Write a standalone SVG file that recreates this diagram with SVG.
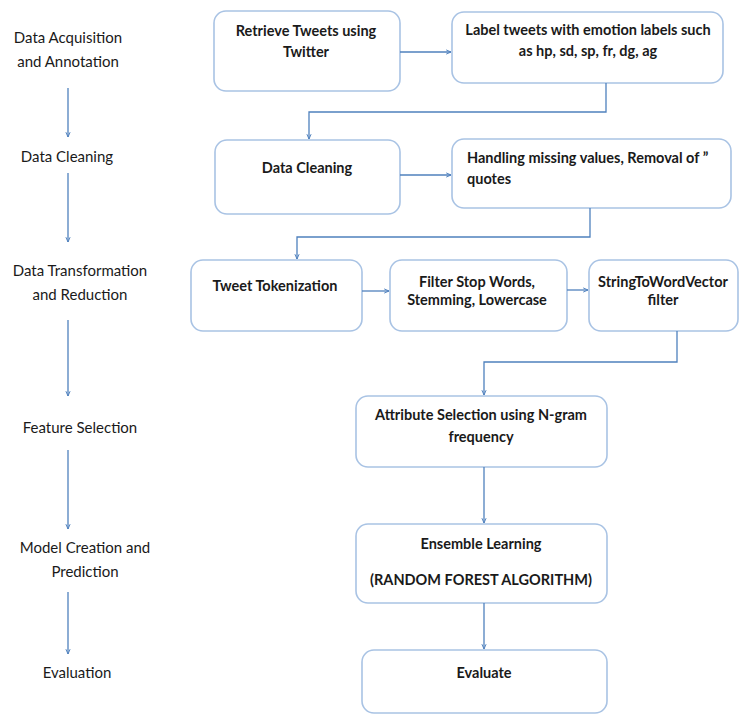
<svg xmlns="http://www.w3.org/2000/svg" width="740" height="715" viewBox="0 0 740 715">
<defs>
<marker id="ah" viewBox="0 0 10 10" refX="9" refY="5" markerWidth="6" markerHeight="6" orient="auto" markerUnits="userSpaceOnUse">
<path d="M1,1.5 L9,5 L1,8.5" fill="none" stroke="#4f81bd" stroke-width="1.6"/>
</marker>
<style>
.box{fill:#fff;stroke:#a9c3e4;stroke-width:1.6}
.t{font-family:Lato,"Liberation Sans",sans-serif;font-size:14.5px;font-weight:bold;fill:#1a1a1a}
.l{font-family:Lato,"Liberation Sans",sans-serif;font-size:15px;fill:#1a1a1a;text-anchor:middle}
.c{text-anchor:middle}
.e{fill:none;stroke:#4f81bd;stroke-width:1.3;marker-end:url(#ah)}
</style>
</defs>
<rect width="740" height="715" fill="#fff"/>
<g id="stage-labels">
<text class="l" x="68" y="43">Data Acquisition</text>
<text class="l" x="68" y="67">and Annotation</text>
<text class="l" x="67" y="162">Data Cleaning</text>
<text class="l" x="80" y="276">Data Transformation</text>
<text class="l" x="80" y="300">and Reduction</text>
<text class="l" x="80" y="433">Feature Selection</text>
<text class="l" x="85" y="553">Model Creation and</text>
<text class="l" x="85" y="577">Prediction</text>
<text class="l" x="77" y="678">Evaluation</text>
</g>
<g id="retrieve"><rect class="box" x="214" y="11" width="186" height="80" rx="12"/>
<text class="t c" x="306" y="36">Retrieve Tweets using</text><text class="t c" x="306" y="57">Twitter</text></g>
<g id="label"><rect class="box" x="452" y="12" width="271" height="71" rx="12"/>
<text class="t c" x="588" y="35">Label tweets with emotion labels such</text><text class="t c" x="588" y="56">as hp, sd, sp, fr, dg, ag</text></g>
<g id="cleaning"><rect class="box" x="215" y="140" width="185" height="74" rx="12"/>
<text class="t c" x="307" y="173">Data Cleaning</text></g>
<g id="handling"><rect class="box" x="452" y="139" width="279" height="69" rx="12"/>
<text class="t" x="467" y="163">Handling missing values, Removal of ”</text><text class="t" x="467" y="184">quotes</text></g>
<g id="tokenize"><rect class="box" x="191" y="260" width="171" height="71" rx="12"/>
<text class="t c" x="275" y="291">Tweet Tokenization</text></g>
<g id="filter"><rect class="box" x="390" y="260" width="177" height="71" rx="12"/>
<text class="t c" x="477" y="287">Filter Stop Words,</text><text class="t c" x="477" y="305">Stemming, Lowercase</text></g>
<g id="s2wv"><rect class="box" x="589" y="260" width="149" height="71" rx="12"/>
<text class="t c" x="663" y="287">StringToWordVector</text><text class="t c" x="663" y="305">filter</text></g>
<g id="attribute"><rect class="box" x="356" y="396" width="251" height="71" rx="12"/>
<text class="t c" x="481" y="420">Attribute Selection using N-gram</text><text class="t c" x="481" y="442">frequency</text></g>
<g id="ensemble"><rect class="box" x="356" y="524" width="251" height="79" rx="12"/>
<text class="t c" x="481" y="549">Ensemble Learning</text><text class="t c" x="481" y="585">(RANDOM FOREST ALGORITHM)</text></g>
<g id="evaluate"><rect class="box" x="362" y="650" width="245" height="63" rx="12"/>
<text class="t c" x="484" y="678">Evaluate</text></g>
<g id="connectors">
<path class="e" d="M68,88 V137"/>
<path class="e" d="M68,173 V242"/>
<path class="e" d="M68,320 V396"/>
<path class="e" d="M68,450 V529"/>
<path class="e" d="M68,592 V654"/>
<path class="e" d="M400,52 H451"/>
<path class="e" d="M606,83 V112 H309 V139"/>
<path class="e" d="M400,175 H451"/>
<path class="e" d="M590,208 V237 H297 V259"/>
<path class="e" d="M362,291 H389"/>
<path class="e" d="M567,290 H588"/>
<path class="e" d="M677,331 V362 H484 V395"/>
<path class="e" d="M484,467 V523"/>
<path class="e" d="M484,603 V649"/>
</g>
</svg>
